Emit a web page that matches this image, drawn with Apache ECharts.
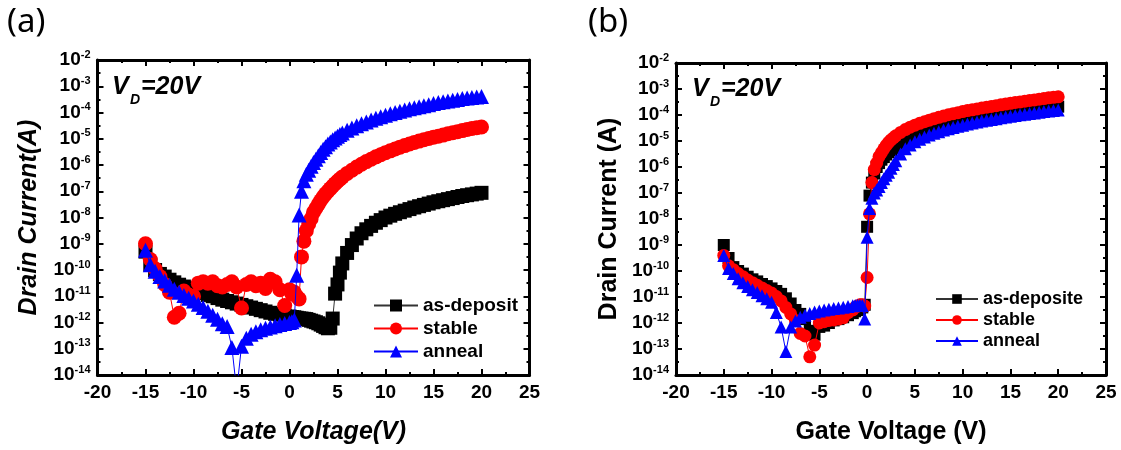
<!DOCTYPE html>
<html>
<head>
<meta charset="utf-8">
<script src="https://cdn.jsdelivr.net/npm/echarts@6/dist/echarts.min.js"></script>
<style>
html,body{margin:0;padding:0;background:#fff;}
#chart{width:1121px;height:450px;}
</style>
</head>
<body>
<div id="chart"></div>
<script>
// ---------- DATA (drain current stored as log10(I/A)) ----------
// Panel (a) gate voltages (V)
const vgA = [-15,-14.5,-14,-13.5,-13,-12.5,-12,-11.5,-11,-10.5,-10,-9.5,-9,-8.5,-8,-7.5,-7,-6.5,-6,-5.5,-5,-4.5,-4,-3.5,-3,-2.5,-2,-1.5,-1,-0.5,0,
  0.25,0.5,0.75,1,1.25,1.5,1.75,2,2.25,2.5,2.75,3,3.25,3.5,3.75,4,4.25,4.5,4.75,5,5.25,5.5,
  6,6.5,7,7.5,8,8.5,9,9.5,10,10.5,11,11.5,12,12.5,13,13.5,14,14.5,15,15.5,16,16.5,17,17.5,18,18.5,19,19.5,20];
const logA_asDeposit = [-9.3,-9.8,-10.0,-10.15,-10.25,-10.37,-10.47,-10.56,-10.63,-10.7,-10.75,-10.82,-10.88,-10.95,-11.0,-11.07,-11.13,-11.18,-11.23,-11.28,-11.33,-11.38,-11.43,-11.48,-11.53,-11.58,-11.63,-11.67,-11.7,-11.74,-11.77,
  -11.79,-11.8,-11.82,-11.84,-11.85,-11.86,-11.87,-11.9,-11.93,-11.96,-11.99,-12.03,-12.08,-12.13,-12.18,-12.22,-12.2,-11.85,-10.9,-10.55,-10.1,-9.75,
  -9.35,-9.05,-8.8,-8.6,-8.45,-8.32,-8.2,-8.1,-8.0,-7.93,-7.86,-7.8,-7.74,-7.68,-7.62,-7.57,-7.52,-7.47,-7.42,-7.38,-7.34,-7.3,-7.26,-7.22,-7.18,-7.15,-7.12,-7.09,-7.06];
const logA_stable = [-9.0,-9.6,-9.95,-10.25,-10.55,-10.85,-11.8,-11.65,-10.8,-10.95,-11.0,-10.5,-10.45,-10.5,-10.45,-10.6,-10.65,-10.55,-10.45,-10.65,-11.45,-10.55,-10.45,-10.6,-10.5,-10.7,-10.35,-10.45,-10.75,-11.35,-10.75,
  -10.9,-10.85,-11.0,-11.1,-9.5,-8.9,-8.5,-8.25,-8.05,-7.8,-7.65,-7.5,-7.35,-7.22,-7.1,-7.0,-6.9,-6.8,-6.71,-6.62,-6.54,-6.46,
  -6.32,-6.2,-6.08,-5.97,-5.87,-5.78,-5.69,-5.61,-5.53,-5.46,-5.39,-5.32,-5.26,-5.2,-5.14,-5.09,-5.04,-4.99,-4.94,-4.9,-4.86,-4.81,-4.77,-4.73,-4.69,-4.65,-4.61,-4.58,-4.55];
const logA_anneal = [-9.25,-9.8,-10.05,-10.25,-10.42,-10.58,-10.73,-10.85,-10.97,-11.08,-11.18,-11.3,-11.43,-11.57,-11.72,-11.88,-12.05,-12.15,-12.95,-14.6,-12.9,-12.6,-12.45,-12.35,-12.28,-12.22,-12.17,-12.12,-12.08,-12.04,-12.0,
  -11.97,-11.9,-10.2,-7.9,-7.0,-6.6,-6.35,-6.2,-6.05,-5.9,-5.78,-5.65,-5.52,-5.4,-5.3,-5.2,-5.12,-5.04,-4.97,-4.9,-4.84,-4.78,
  -4.68,-4.59,-4.5,-4.43,-4.36,-4.29,-4.22,-4.16,-4.1,-4.05,-4.0,-3.95,-3.9,-3.86,-3.82,-3.78,-3.74,-3.7,-3.66,-3.62,-3.59,-3.56,-3.53,-3.5,-3.47,-3.45,-3.43,-3.41,-3.39];

// Panel (b) gate voltages (V)
const vgB = [-15,-14.5,-14,-13.5,-13,-12.5,-12,-11.5,-11,-10.5,-10,-9.5,-9,-8.5,-8,-7.5,-7,-6.5,-6,-5.5,-5,-4.5,-4,-3.5,-3,-2.5,-2,-1.5,
  -1.25,-1,-0.75,-0.5,-0.25,0,0.25,0.5,0.75,1,1.25,1.5,1.75,2,2.25,2.5,2.75,3,
  3.5,4,4.5,5,5.5,6,6.5,7,7.5,8,8.5,9,9.5,10,10.5,11,11.5,12,12.5,13,13.5,14,14.5,15,15.5,16,16.5,17,17.5,18,18.5,19,19.5,20];
const logB_asDeposite = [-9.0,-9.5,-9.85,-10.0,-10.1,-10.22,-10.32,-10.4,-10.5,-10.58,-10.67,-10.77,-10.88,-11.05,-11.25,-11.5,-11.65,-11.85,-12.3,-12.45,-12.15,-12.1,-12.0,-11.9,-11.85,-11.78,-11.7,-11.62,
  -11.55,-11.5,-11.45,-11.4,-11.3,-8.3,-7.1,-6.6,-6.25,-6.0,-5.85,-5.72,-5.62,-5.52,-5.43,-5.35,-5.27,-5.2,
  -5.07,-4.95,-4.85,-4.76,-4.68,-4.61,-4.55,-4.49,-4.44,-4.39,-4.34,-4.3,-4.26,-4.22,-4.18,-4.15,-4.12,-4.08,-4.05,-4.02,-3.99,-3.96,-3.93,-3.9,-3.88,-3.85,-3.83,-3.8,-3.78,-3.76,-3.74,-3.72,-3.7,-3.68];
const logB_stable = [-9.4,-9.8,-9.95,-10.1,-10.22,-10.35,-10.45,-10.55,-10.65,-10.75,-10.85,-10.98,-11.15,-11.4,-11.65,-11.9,-12.4,-12.5,-13.3,-12.85,-12.0,-11.95,-11.9,-11.88,-11.85,-11.8,-11.6,-11.5,
  -11.4,-11.35,-11.3,-11.3,-11.35,-10.25,-7.8,-6.6,-6.1,-5.85,-5.6,-5.45,-5.3,-5.17,-5.05,-4.96,-4.88,-4.8,
  -4.67,-4.56,-4.47,-4.39,-4.32,-4.26,-4.2,-4.14,-4.09,-4.04,-3.99,-3.95,-3.91,-3.87,-3.83,-3.8,-3.77,-3.73,-3.7,-3.67,-3.64,-3.61,-3.58,-3.55,-3.52,-3.5,-3.47,-3.44,-3.42,-3.39,-3.37,-3.34,-3.32,-3.3];
const logB_anneal = [-9.4,-9.9,-10.1,-10.3,-10.45,-10.6,-10.72,-10.83,-10.95,-11.07,-11.2,-11.6,-12.15,-13.1,-12.15,-11.92,-11.78,-11.7,-11.63,-11.58,-11.54,-11.5,-11.47,-11.44,-11.42,-11.39,-11.37,-11.34,
  -11.33,-11.32,-11.32,-11.33,-11.85,-8.7,-7.6,-7.2,-7.0,-6.88,-6.75,-6.6,-6.45,-6.32,-6.2,-6.05,-5.9,-5.76,
  -5.5,-5.3,-5.15,-5.03,-4.93,-4.85,-4.77,-4.7,-4.64,-4.58,-4.53,-4.48,-4.43,-4.39,-4.35,-4.31,-4.27,-4.23,-4.2,-4.17,-4.14,-4.11,-4.08,-4.05,-4.02,-3.99,-3.97,-3.94,-3.92,-3.89,-3.87,-3.85,-3.83,-3.81];

const namesA = ['as-deposit','stable','anneal'];
const namesB = ['as-deposite','stable','anneal'];
const xRange = [-20, 25];      // gate voltage axis
const yRange = [-14, -2];      // log10 current axis (decades)

// ---------- CHART ----------
const FONT = '"Liberation Sans", Arial, sans-serif';
const COLORS = ['#000000', '#ff0000', '#0000ff'];
const LINECOLORS = ['#333333', '#ff0000', '#0000ff'];
const SYMBOLS = ['rect', 'circle', 'triangle'];

const chart = echarts.init(document.getElementById('chart'), null, {renderer: 'canvas'});

function pairs(xs, ys) { return xs.map((x, i) => [x, ys[i]]); }

const tickCommon = {
  axisLine: {show: true, onZero: false, lineStyle: {color: '#000', width: 3}},
  axisTick: {show: true, inside: true, length: 6, lineStyle: {color: '#000', width: 2}},
  minorTick: {show: true, splitNumber: 2, length: 3, lineStyle: {color: '#000', width: 2}},
  splitLine: {show: false},
  minorSplitLine: {show: false}
};

function xAxes(gridIndex, title, italic) {
  return [
    Object.assign({
      type: 'value', gridIndex, position: 'bottom', min: xRange[0], max: xRange[1], interval: 5,
      axisLabel: {show: true, margin: 8, color: '#000', fontSize: 19, fontWeight: 'bold', fontFamily: FONT},
      name: title, nameLocation: 'middle', nameGap: 45,
      nameTextStyle: {color: '#000', fontSize: 25, fontWeight: 'bold', fontStyle: italic ? 'italic' : 'normal', fontFamily: FONT}
    }, tickCommon),
    Object.assign({
      type: 'value', gridIndex, position: 'top', min: xRange[0], max: xRange[1], interval: 5,
      axisLabel: {show: false}
    }, tickCommon)
  ];
}

function yAxes(gridIndex, title, italic, gap) {
  return [
    Object.assign({
      type: 'value', gridIndex, position: 'left', min: yRange[0], max: yRange[1], interval: 1,
      axisLabel: {
        show: true, margin: 7, color: '#000', showMaxLabel: true, showMinLabel: true,
        formatter: v => '{b|10}{s|' + v + '}',
        rich: {
          b: {fontSize: 19, fontWeight: 'bold', fontFamily: FONT, color: '#000'},
          s: {fontSize: 11, fontWeight: 'bold', fontFamily: FONT, color: '#000', padding: [0, 0, 11, 0]}
        }
      },
      name: title, nameLocation: 'middle', nameGap: gap, nameRotate: 90,
      nameTextStyle: {color: '#000', fontSize: 25, fontWeight: 'bold', fontStyle: italic ? 'italic' : 'normal', fontFamily: FONT}
    }, tickCommon),
    Object.assign({
      type: 'value', gridIndex, position: 'right', min: yRange[0], max: yRange[1], interval: 1,
      axisLabel: {show: false}
    }, tickCommon)
  ];
}

function makeSeries(names, xs, ysList, xIdx, yIdx, sizes) {
  return names.map((n, k) => ({
    name: n, type: 'line', xAxisIndex: xIdx, yAxisIndex: yIdx,
    data: pairs(xs, ysList[k]),
    symbol: SYMBOLS[k], symbolSize: sizes[k], showAllSymbol: true,
    itemStyle: {color: COLORS[k], opacity: 1},
    lineStyle: {color: LINECOLORS[k], width: 1},
    clip: true, animation: false, z: 2 + k
  }));
}

const option = {
  animation: false,
  backgroundColor: '#fff',
  grid: [
    {left: 97.5, top: 60, width: 432, height: 318},
    {left: 676, top: 63, width: 430, height: 314}
  ],
  xAxis: [...xAxes(0, 'Gate Voltage(V)', true), ...xAxes(1, 'Gate Voltage (V)', false)],
  yAxis: [...yAxes(0, 'Drain Current(A)', true, 56), ...yAxes(1, 'Drain Current (A)', false, 54)],
  legend: [
    {
      data: namesA.map(n => ({name: n})), orient: 'vertical', left: 368, top: 291,
      itemWidth: 44, itemHeight: 15, itemGap: 4,
      textStyle: {color: '#000', fontSize: 19, fontWeight: 'bold', fontFamily: FONT}
    },
    {
      data: namesB.map(n => ({name: n + ' '})),
      orient: 'vertical', left: 930, top: 285,
      itemWidth: 42, itemHeight: 12, itemGap: 3,
      textStyle: {color: '#000', fontSize: 18, fontWeight: 'bold', fontFamily: FONT}
    }
  ],
  series: [
    ...makeSeries(namesA, vgA, [logA_asDeposit, logA_stable, logA_anneal], 0, 0, [14, 15, 15]),
    ...makeSeries(namesB.map(n => n + ' '), vgB, [logB_asDeposite, logB_stable, logB_anneal], 2, 2, [12, 13, 13])
  ],
  graphic: [
    {type: 'text', left: 7, top: 6, style: {text: '(a)', font: '33px "Noto Sans", "Open Sans", sans-serif', fill: '#000'}},
    {type: 'text', left: 588, top: 6, style: {text: '(b)', font: '33px "Noto Sans", "Open Sans", sans-serif', fill: '#000'}},
    // V_D = 20V annotations
    {type: 'text', left: 112, top: 75, style: {text: 'V', font: 'italic bold 25px "Liberation Sans", Arial, sans-serif', fill: '#000'}},
    {type: 'text', left: 130, top: 93, style: {text: 'D', font: 'italic bold 14px "Liberation Sans", Arial, sans-serif', fill: '#000'}},
    {type: 'text', left: 141, top: 75, style: {text: '=20V', font: 'italic bold 25px "Liberation Sans", Arial, sans-serif', fill: '#000'}},
    {type: 'text', left: 692, top: 77, style: {text: 'V', font: 'italic bold 25px "Liberation Sans", Arial, sans-serif', fill: '#000'}},
    {type: 'text', left: 710, top: 95, style: {text: 'D', font: 'italic bold 14px "Liberation Sans", Arial, sans-serif', fill: '#000'}},
    {type: 'text', left: 721, top: 77, style: {text: '=20V', font: 'italic bold 25px "Liberation Sans", Arial, sans-serif', fill: '#000'}}
  ]
};
chart.setOption(option);
</script>
</body>
</html>
